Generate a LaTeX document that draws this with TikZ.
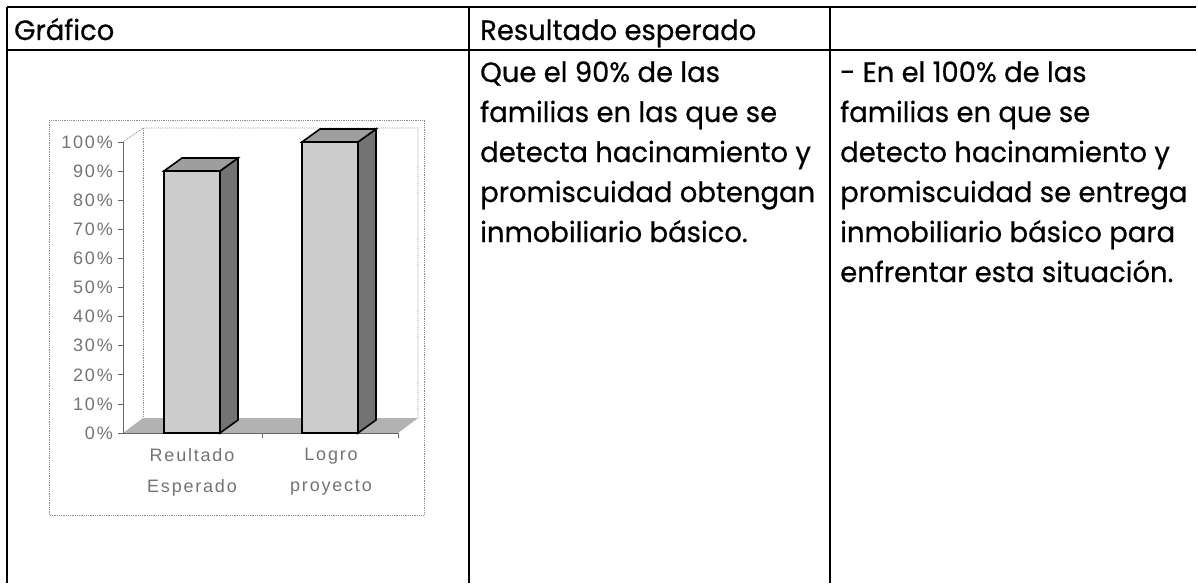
\documentclass[tikz,border=0pt]{standalone}
\usepackage{fontspec}
\setmainfont[FakeBold=0.6, FakeStretch=0.98]{Poppins}
\newfontfamily\chartfont[LetterSpace=10]{Liberation Sans}
\usepackage{tikz}
\tikzstyle{gridline}=[line width=1.5pt, black]
\tikzstyle{celltext}=[anchor=base west, inner sep=0pt, font=\fontsize{28}{40}\selectfont]
\tikzstyle{chartline}=[black!45, densely dotted, line width=.8pt]
\tikzstyle{chartlabel}=[text=black!55, inner sep=0pt, font=\chartfont\fontsize{18}{31}\selectfont]
\tikzstyle{barfront}=[fill=black!20]
\tikzstyle{barside}=[fill=black!55]
\tikzstyle{bartop}=[fill=black!38]

\begin{document}
\begin{tikzpicture}[x=1pt,y=-1pt]
	\useasboundingbox (0,0) rectangle (1198,583);
	% table rules
	\draw[gridline] (7,7) -- (1196,7);
	\draw[gridline] (7,50) -- (1196,50);
	\draw[gridline] (7,7) -- (7,583);
	\draw[gridline] (469,7) -- (469,583);
	\draw[gridline] (830,7) -- (830,583);
	\node[celltext] (hgrafico) at (14,40) {Gráfico};
	\node[celltext] (hresultado) at (480,40) {Resultado esperado};
	% cell lines, 40 apart
	\foreach \txt [count=\i] in {Que el 90\% de las, familias en las que se, detecta hacinamiento y, promiscuidad obtengan, inmobiliario básico.}
		\node[celltext] (esperado-\i) at (480,{42+40*\i}) {\txt};
	\foreach \txt [count=\i] in {- En el 100\% de las, familias en que se, detecto hacinamiento y, promiscuidad se entrega, inmobiliario básico para, enfrentar esta situación.}
		\node[celltext] (logro-\i) at (840,{42+40*\i}) {\txt};
	% chart frame and walls
	\draw[chartline] (49,120) rectangle (424,515);
	\draw[chartline] (123,142) -- (143,128) -- (418,128) -- (418,418);
	\draw[chartline] (143,128) -- (143,418);
	\fill[black!30] (123,433) -- (143,418) -- (418,418) -- (398,433) -- cycle;
	\draw[black!60, line width=.8pt] (123,142) -- (123,433) -- (398,433);
	\foreach \k [evaluate=\k as \v using int(10*\k)] in {0,...,10} {
		\draw[black!60, line width=.8pt] (118,{433-29.1*\k}) -- (123,{433-29.1*\k});
		\node[chartlabel, anchor=east] at (113,{433-29.1*\k}) {\v\%};
	}
	\draw[black!60, line width=.8pt] (262,433) -- (262,438);
	\draw[black!60, line width=.8pt] (398,433) -- (398,438);
	% bars
	\foreach \l/\t in {164/171, 302/142} {
		\filldraw[barfront, line width=1.6pt] (\l,433) rectangle (\l+56,\t);
		\filldraw[barside, line width=1.6pt] (\l+56,433) -- (\l+74,420) -- (\l+74,\t-13) -- (\l+56,\t) -- cycle;
		\filldraw[bartop, line width=1.6pt] (\l,\t) -- (\l+18,\t-13) -- (\l+74,\t-13) -- (\l+56,\t) -- cycle;
	}
	\node[chartlabel, align=center] (cat1) at (192,472) {Reultado\\Esperado};
	\node[chartlabel, align=center] (cat2) at (331,472) {Logro\\proyecto};
\end{tikzpicture}
\end{document}
